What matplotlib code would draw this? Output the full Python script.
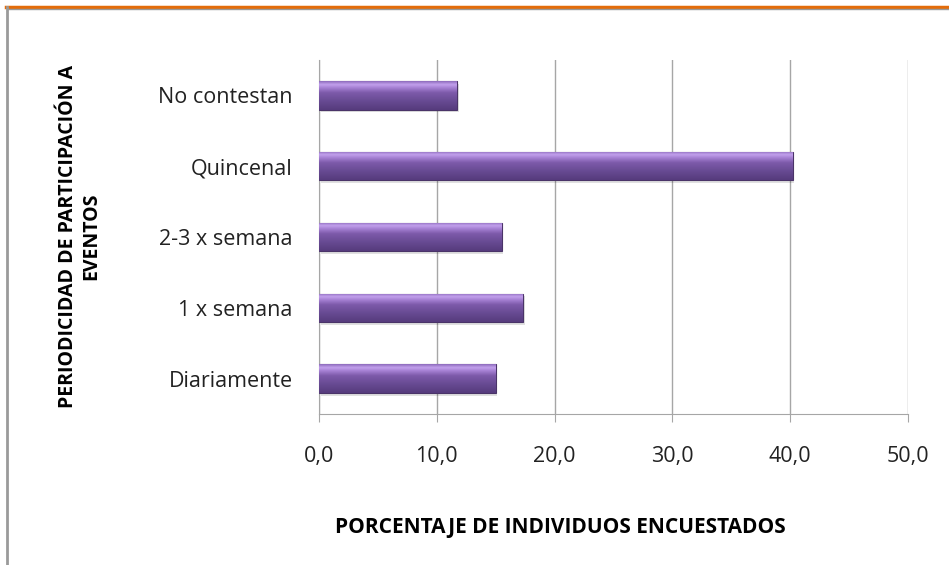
import matplotlib
matplotlib.use("Agg")
import matplotlib.pyplot as plt
import numpy as np
from matplotlib.colors import LinearSegmentedColormap
from matplotlib.patches import Rectangle

categories = ["Diariamente", "1 x semana", "2-3 x semana", "Quincenal", "No contestan"]
values = [15.0, 17.3, 15.5, 40.2, 11.7]
xticks = [0, 10, 20, 30, 40, 50]
xticklabels = ["0,0", "10,0", "20,0", "30,0", "40,0", "50,0"]

plt.rcParams['font.family'] = ['Open Sans', 'DejaVu Sans']

fig = plt.figure(figsize=(9.49, 5.65), dpi=100)
ax = fig.add_axes([319/949, 1-414/565, (908-319)/949, (414-60)/565])

y = np.arange(len(categories))
bars = ax.barh(y, values, height=0.4, color="#7a56a6", edgecolor="#4a3468", linewidth=0.8, zorder=3)

cmap = LinearSegmentedColormap.from_list("purp", [
    (0.0, "#553b7c"), (0.3, "#674a92"), (0.6, "#7d5aaa"), (0.78, "#a883d6"), (0.88, "#c2a0ec"), (1.0, "#8c6abb")])
grad = np.linspace(0, 1, 256).reshape(-1, 1)
for b in bars:
    x0, y0, w, h = b.get_x(), b.get_y(), b.get_width(), b.get_height()
    ax.add_patch(Rectangle((x0 + 0.15, y0 - 0.04), w, h, color="#000000", alpha=0.12, zorder=2, linewidth=0))
    im = ax.imshow(grad, extent=[x0, x0 + w, y0, y0 + h], origin="lower", cmap=cmap,
                   aspect="auto", zorder=3.5, interpolation="bilinear")
    im.set_clip_path(b)

ax.set_xlim(0, 50)
ax.set_ylim(-0.5, len(categories) - 0.5)
ax.set_xticks(xticks)
ax.set_xticklabels(xticklabels, fontsize=15.5, color="#222222")
ax.set_yticks(y)
ax.set_yticklabels(categories, fontsize=15.5, color="#222222")
ax.grid(axis="x", color="#a6a6a6", linewidth=1.0, zorder=0)
for s in ["top", "right"]:
    ax.spines[s].set_visible(False)
ax.spines["left"].set_color("#a6a6a6")
ax.spines["bottom"].set_color("#a6a6a6")
ax.tick_params(axis="x", length=6, color="#a6a6a6", pad=17)
ax.tick_params(axis="y", length=0, pad=19)

fig.text(560/949, 1-527/565, "PORCENTAJE DE INDIVIDUOS ENCUESTADOS", fontsize=15,
         fontweight="bold", ha="center", va="center")
fig.text(68/949, 1-236/565, "PERIODICIDAD DE PARTICIPACIÓN A", rotation=90,
         fontsize=14, fontweight="bold", ha="center", va="center")
fig.text(91/949, 1-236/565, "EVENTOS", rotation=90,
         fontsize=14, fontweight="bold", ha="center", va="center")

# frame lines
fig.add_artist(plt.Line2D([6/949, 1], [1-7/565, 1-7/565], color="#e36c0a", linewidth=2.5, transform=fig.transFigure))
fig.add_artist(plt.Line2D([8/949, 1], [1-9/565, 1-9/565], color="#9a9a9a", linewidth=1.0, transform=fig.transFigure))
fig.add_artist(plt.Line2D([7/949, 7/949], [0, 1-7/565], color="#9a9a9a", linewidth=2.0, transform=fig.transFigure))

fig.savefig("out.png", dpi=100)
